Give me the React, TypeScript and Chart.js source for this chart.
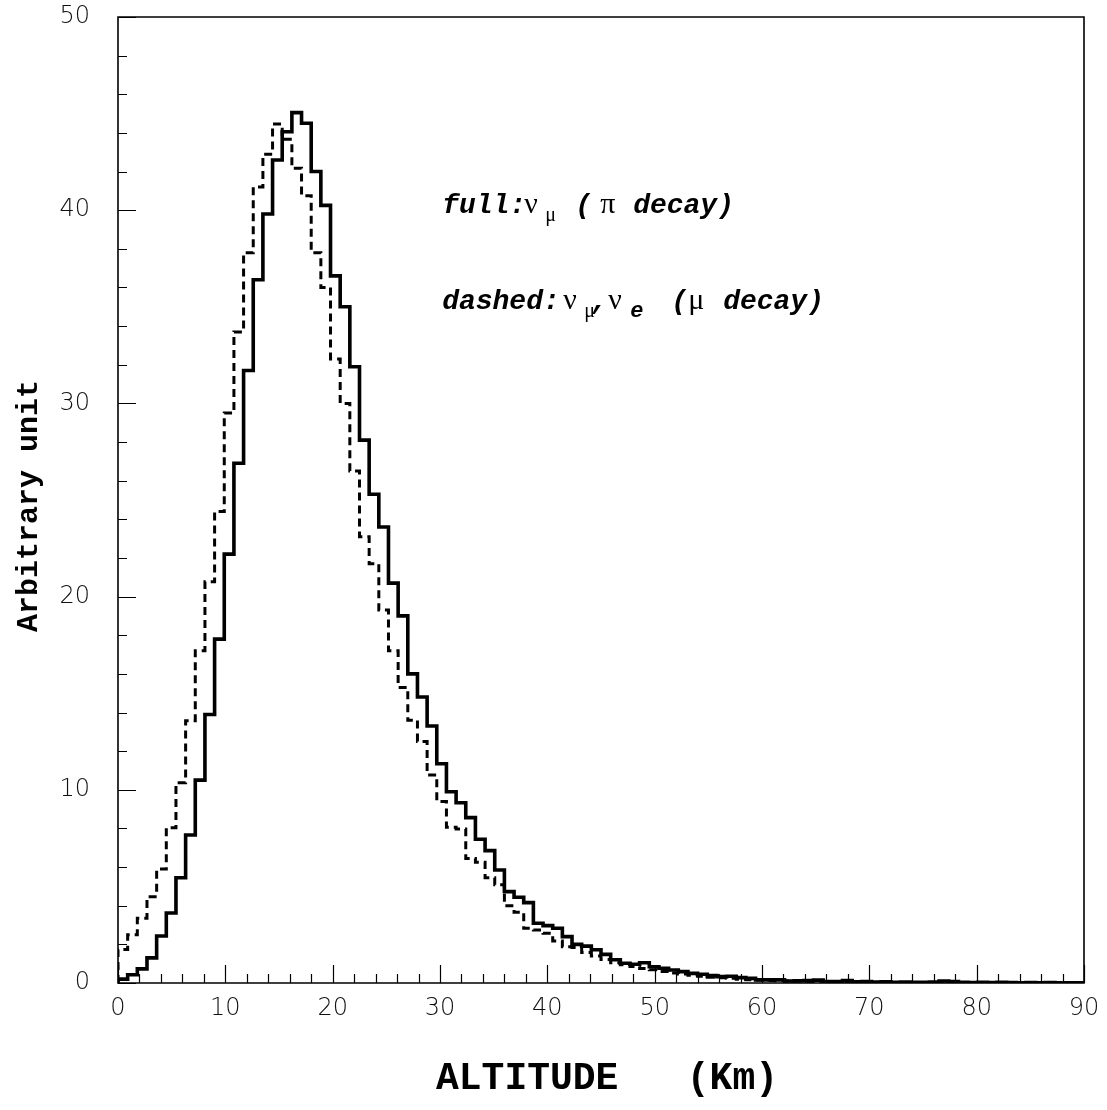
import React, { useEffect, useRef } from "react";
import { Chart, registerables } from "chart.js";

Chart.register(...registerables);

// Histogram: 100 bins of 0.9 km from 0 to 90 km
const BIN_WIDTH = 0.9;

// full line: nu_mu (pi decay)
const solidValues = [
  0.2, 0.43, 0.73, 1.3, 2.43, 3.62, 5.45, 7.66, 10.5, 13.9,
  17.8, 22.2, 26.9, 31.7, 36.4, 39.8, 42.6, 44.06, 45.05, 44.5,
  42.0, 40.25, 36.6, 35.0, 31.9, 28.1, 25.3, 23.6, 20.7, 19.0,
  16.0, 14.8, 13.3, 11.35, 9.9, 9.33, 8.56, 7.44, 6.85, 5.85,
  4.73, 4.44, 4.16, 3.09, 2.97, 2.83, 2.4, 2.0, 1.91, 1.72,
  1.48, 1.2, 1.02, 0.97, 1.05, 0.84, 0.76, 0.67, 0.59, 0.5,
  0.45, 0.38, 0.33, 0.35, 0.28, 0.24, 0.16, 0.16, 0.16, 0.1,
  0.12, 0.13, 0.15, 0.08, 0.08, 0.13, 0.06, 0.07, 0.05, 0.06,
  0.04, 0.05, 0.04, 0.03, 0.05, 0.1, 0.08, 0.03, 0.02, 0.03,
  0.02, 0.03, 0.02, 0.01, 0.02, 0.01, 0.02, 0.01, 0.01, 0.01,
];

// dashed line: nu_mu, nu_e (mu decay)
const dashedValues = [
  1.74, 2.5, 3.35, 4.47, 5.9, 8.04, 10.37, 13.58, 17.2, 20.77,
  24.4, 29.5, 33.7, 37.8, 41.2, 42.9, 44.46, 43.67, 42.17, 40.75,
  37.8, 36.0, 32.3, 30.0, 26.5, 23.1, 21.7, 19.3, 17.2, 15.3,
  13.6, 12.5, 10.77, 9.39, 8.06, 7.97, 6.45, 6.25, 5.45, 5.08,
  4.0, 3.66, 2.83, 2.74, 2.57, 2.18, 1.87, 1.84, 1.58, 1.4,
  1.22, 1.05, 0.95, 0.85, 0.75, 0.68, 0.6, 0.52, 0.46, 0.4,
  0.35, 0.3, 0.27, 0.24, 0.2, 0.17, 0.15, 0.13, 0.12, 0.1,
  0.09, 0.08, 0.07, 0.06, 0.05, 0.05, 0.04, 0.04, 0.03, 0.03,
  0.03, 0.02, 0.02, 0.02, 0.02, 0.01, 0.02, 0.01, 0.01, 0.01,
  0.01, 0.01, 0.01, 0.01, 0.01, 0.01, 0.01, 0.01, 0.01, 0.01,
];

const xTickValues = [0, 10, 20, 30, 40, 50, 60, 70, 80, 90];
const yTickValues = [0, 10, 20, 30, 40, 50];
const xMinorStep = 2;
const yMinorStep = 2;

const xTitle = "ALTITUDE   (Km)";
const yTitle = "Arbitrary unit";

function toSteps(values: number[]) {
  const pts = [{ x: 0, y: 0 }];
  values.forEach((v, i) => pts.push({ x: i * BIN_WIDTH, y: v }));
  pts.push({ x: values.length * BIN_WIDTH, y: values[values.length - 1] });
  return pts;
}

const MONO = '"Liberation Mono", "DejaVu Sans Mono", monospace';
const SERIF = '"Liberation Serif", "DejaVu Serif", serif';

type Seg = { t: string; font: string; dx: number; dy?: number };

const annotLine1: Seg[] = [
  { t: "full:", font: `italic bold 28px ${MONO}`, dx: 0 },
  { t: "ν", font: `30px ${SERIF}`, dx: 82 },
  { t: "μ", font: `20px ${SERIF}`, dx: 103, dy: 8 },
  { t: "(", font: `italic bold 28px ${MONO}`, dx: 133 },
  { t: "π", font: `30px ${SERIF}`, dx: 158 },
  { t: "decay)", font: `italic bold 28px ${MONO}`, dx: 191 },
];
const annotLine2: Seg[] = [
  { t: "dashed:", font: `italic bold 28px ${MONO}`, dx: 0 },
  { t: "ν", font: `30px ${SERIF}`, dx: 121 },
  { t: "μ", font: `20px ${SERIF}`, dx: 142, dy: 8 },
  { t: ",", font: `italic bold 28px ${MONO}`, dx: 149 },
  { t: "ν", font: `30px ${SERIF}`, dx: 166 },
  { t: "e", font: `italic bold 22px ${MONO}`, dx: 188, dy: 8 },
  { t: "(", font: `italic bold 28px ${MONO}`, dx: 229 },
  { t: "μ", font: `30px ${SERIF}`, dx: 246 },
  { t: "decay)", font: `italic bold 28px ${MONO}`, dx: 281 },
];
// anchor positions in data units (km, arbitrary units)
const annotAnchors = [
  { x: 30.2, y: 39.85, segs: annotLine1 },
  { x: 30.2, y: 34.9, segs: annotLine2 },
];

const framePlugin = {
  id: "framePlugin",
  afterDraw(chart: any) {
    const { ctx, chartArea, scales } = chart;
    const xs = scales.x;
    const ys = scales.y;
    ctx.save();
    ctx.strokeStyle = "#000";
    ctx.lineWidth = 1.6;
    ctx.beginPath();
    ctx.rect(chartArea.left, chartArea.top, chartArea.right - chartArea.left, chartArea.bottom - chartArea.top);
    ctx.stroke();

    ctx.lineWidth = 1.2;
    ctx.beginPath();
    for (let v = xs.min; v <= xs.max + 1e-9; v += xMinorStep) {
      const px = Math.round(xs.getPixelForValue(v)) + 0.5;
      const len = Math.abs(v % 10) < 1e-6 ? 18 : 9;
      ctx.moveTo(px, chartArea.bottom);
      ctx.lineTo(px, chartArea.bottom - len);
    }
    for (let v = ys.min; v <= ys.max + 1e-9; v += yMinorStep) {
      const py = Math.round(ys.getPixelForValue(v)) + 0.5;
      const len = Math.abs(v % 10) < 1e-6 ? 18 : 9;
      ctx.moveTo(chartArea.left, py);
      ctx.lineTo(chartArea.left + len, py);
    }
    ctx.stroke();

    // annotations
    ctx.fillStyle = "#000";
    ctx.textBaseline = "alphabetic";
    ctx.textAlign = "left";
    for (const a of annotAnchors) {
      const bx = xs.getPixelForValue(a.x);
      const by = ys.getPixelForValue(a.y);
      for (const s of a.segs) {
        ctx.font = s.font;
        ctx.fillText(s.t, bx + s.dx, by + (s.dy || 0));
      }
    }

    // axis titles
    ctx.font = `bold 38px ${MONO}`;
    ctx.textAlign = "center";
    ctx.fillText(xTitle, (chartArea.left + chartArea.right) / 2 + 6, 1089);

    ctx.save();
    ctx.translate(37, (chartArea.top + chartArea.bottom) / 2 + 6);
    ctx.rotate(-Math.PI / 2);
    ctx.font = `bold 30px ${MONO}`;
    ctx.textAlign = "center";
    ctx.fillText(yTitle, 0, 0);
    ctx.restore();
    ctx.restore();
  },
};

export default function App() {
  const ref = useRef<HTMLCanvasElement>(null);
  useEffect(() => {
    const tickFont = { family: '"DejaVu Sans", sans-serif', size: 24, weight: "200" as any };
    const chart = new Chart(ref.current!, {
      type: "line",
      data: {
        datasets: [
          {
            label: "full",
            data: toSteps(solidValues),
            stepped: "before",
            borderColor: "#000",
            borderWidth: 3.6,
            pointRadius: 0,
            fill: false,
          },
          {
            label: "dashed",
            data: toSteps(dashedValues),
            stepped: "before",
            borderColor: "#000",
            borderWidth: 3,
            borderDash: [8, 5],
            pointRadius: 0,
            fill: false,
          },
        ],
      },
      options: {
        responsive: false,
        animation: false,
        devicePixelRatio: 1,
        layout: { padding: { top: 17, right: 23, left: 0, bottom: 0 } },
        plugins: { legend: { display: false }, tooltip: { enabled: false } },
        scales: {
          x: {
            type: "linear",
            min: 0,
            max: 90,
            afterFit: (s: any) => {
              s.height = 127;
              s.paddingLeft = 0;
              s.paddingRight = 0;
            },
            afterBuildTicks: (s: any) => { s.ticks = xTickValues.map((v) => ({ value: v })); },
            grid: { display: false, drawTicks: false },
            border: { display: false },
            ticks: { font: tickFont, color: "#111", padding: 11, maxRotation: 0, autoSkip: false },
          },
          y: {
            type: "linear",
            min: 0,
            max: 50,
            afterFit: (s: any) => {
              s.width = 118;
              s.paddingTop = 0;
              s.paddingBottom = 0;
            },
            afterBuildTicks: (s: any) => { s.ticks = yTickValues.map((v) => ({ value: v })); },
            grid: { display: false, drawTicks: false },
            border: { display: false },
            ticks: { font: tickFont, color: "#111", padding: 28, autoSkip: false },
          },
        },
      },
      plugins: [framePlugin],
    });
    return () => chart.destroy();
  }, []);
  return (
    <div style={{ position: "fixed", left: 0, top: 0, width: 1107, height: 1110, background: "#fff" }}>
      <canvas ref={ref} width={1107} height={1110} style={{ width: 1107, height: 1110, display: "block" }} />
    </div>
  );
}
